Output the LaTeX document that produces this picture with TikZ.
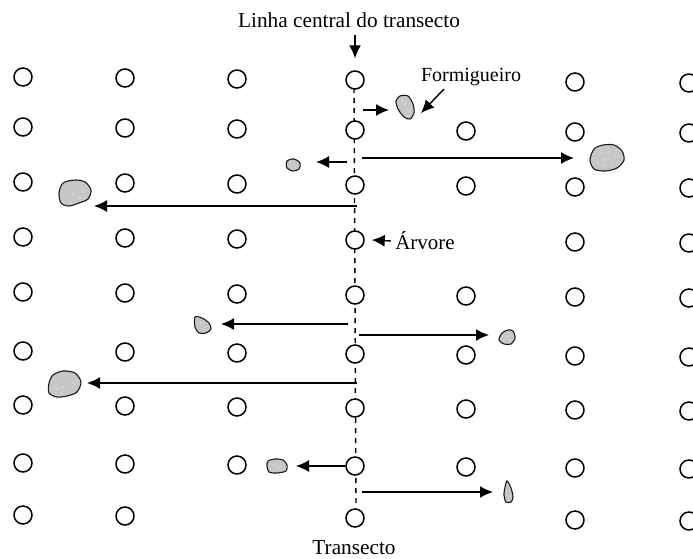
\documentclass[tikz,border=0pt]{standalone}
\usepackage{fontspec}
\setmainfont{Liberation Serif}
\usetikzlibrary{arrows.meta}
\begin{document}
\begin{tikzpicture}[x=1pt,y=-1pt,
  tree/.style={circle,draw,fill=white,line width=1.5pt,minimum size=18pt,inner sep=0pt},
  arr/.style={-{Latex[length=13pt,width=12pt]},line width=1.4pt},
  lbl/.style={font=\fontsize{#1}{24}\selectfont,inner sep=0pt},
  lbl/.default=21,
  ant/.style={fill=gray!45,draw=black!90,line width=1.1pt},
  dotw/.style={fill=white},
  cline/.style={line width=1.4pt,dash pattern=on 5pt off 5pt}]
\useasboundingbox (0,0) rectangle (693,558);
% missing trees
\expandafter\def\csname skip1-5\endcsname{}
\expandafter\def\csname skip4-5\endcsname{}
\expandafter\def\csname skip9-3\endcsname{}
\expandafter\def\csname skip9-5\endcsname{}
% centre line (drawn first, under the trees)
\coordinate (ltop) at (354,88);
\coordinate (lbot) at (356,510);
\draw[cline] (ltop) -- (lbot);
% trees
\foreach \c/\xx in {1/23,2/125,3/237,4/355,5/466,6/575,7/689}{
  \foreach \r/\yy in {1/77,2/127,3/182,4/237,5/292,6/351,7/405,8/463,9/515}{
    \ifcsname skip\r-\c\endcsname\else
      \pgfmathsetmacro\yyy{\yy+\c-1}
      \node[tree] (t-\r-\c) at (\xx,\yyy) {};
    \fi
  }
}
% labels
\node[lbl=21.3] (top) at (349,20) {Linha central do transecto};
\node[lbl=20] (form) at (471,77) {Formigueiro};
\node[lbl=21] (arv) at (425,241) {Árvore};
\node[lbl=21.3] (tra) at (354,548) {Transecto};
% anthills
\begin{scope}[shift={(405,107)}]
\draw[ant] plot[smooth cycle] coordinates {(-5,-11) (3,-11) (8,-3) (9,6) (5,12) (-1,10) (-7,2) (-9,-6)};
\fill[dotw] (0,-3) circle (0.6) (3,4) circle (0.6) (-3,-6) circle (0.6);
\end{scope}
\begin{scope}[shift={(607,158)}]
\draw[ant] plot[smooth cycle] coordinates {(-13,-9) (-4,-13) (7,-13) (15,-7) (17,2) (10,10) (-2,13) (-13,11) (-17,2)};
\fill[dotw] (-6,-5) circle (0.7) (2,-6) circle (0.7) (8,-2) circle (0.7) (-2,2) circle (0.7) (5,5) circle (0.7) (-9,5) circle (0.7) (-3,8) circle (0.7) (10,-8) circle (0.7);
\end{scope}
\begin{scope}[shift={(293,165)}]
\draw[ant] plot[smooth cycle] coordinates {(-6,-4) (1,-6) (7,-2) (6,4) (0,6) (-6,3)};
\end{scope}
\begin{scope}[shift={(75,193)}]
\draw[ant] plot[smooth cycle] coordinates {(-12,-10) (0,-13) (10,-11) (16,-3) (13,6) (4,10) (-6,13) (-14,10) (-16,0)};
\fill[dotw] (-6,-5) circle (0.7) (2,-6) circle (0.7) (8,-2) circle (0.7) (-2,2) circle (0.7) (5,5) circle (0.7) (-8,5) circle (0.7) (-4,9) circle (0.7);
\end{scope}
\begin{scope}[shift={(203,325)}]
\draw[ant] plot[smooth cycle] coordinates {(-8,-8) (-1,-7) (6,-2) (8,4) (3,8) (-4,8) (-8,2)};
\fill[dotw] (-2,-2) circle (0.6) (2,2) circle (0.6);
\end{scope}
\begin{scope}[shift={(507,337)}]
\draw[ant] plot[smooth cycle] coordinates {(-5,-4) (1,-7) (6,-6) (8,1) (4,7) (-3,7) (-8,3)};
\fill[dotw] (0,-1) circle (0.6) (3,3) circle (0.6);
\end{scope}
\begin{scope}[shift={(65,385)}]
\draw[ant] plot[smooth cycle] coordinates {(-12,-10) (-2,-14) (10,-12) (16,-3) (12,7) (2,11) (-8,12) (-16,8) (-16,-2)};
\fill[dotw] (-6,-5) circle (0.7) (2,-6) circle (0.7) (8,-2) circle (0.7) (-2,2) circle (0.7) (5,5) circle (0.7) (-9,4) circle (0.7) (-4,8) circle (0.7);
\end{scope}
\begin{scope}[shift={(277,466)}]
\draw[ant] plot[smooth cycle] coordinates {(-9,-5) (-2,-7) (6,-6) (10,-1) (9,5) (0,7) (-8,6) (-10,0)};
\fill[dotw] (-3,-1) circle (0.6) (3,1) circle (0.6);
\end{scope}
\begin{scope}[shift={(508,492)}]
\draw[ant] plot[smooth cycle] coordinates {(-1,-11) (3,-4) (5,5) (3,10) (-2,10) (-4,3) (-3,-5)};
\end{scope}
% arrow end points
\coordinate (s1) at (363,110);   \coordinate (e1) at (389,110);
\coordinate (s2) at (362,158);   \coordinate (e2) at (574,158);
\coordinate (s3) at (347,162);   \coordinate (e3) at (316,162);
\coordinate (s4) at (357,206);   \coordinate (e4) at (94,206);
\coordinate (s5) at (348,324);   \coordinate (e5) at (221,324);
\coordinate (s6) at (359,335);   \coordinate (e6) at (489,335);
\coordinate (s7) at (357,383);   \coordinate (e7) at (87,383);
\coordinate (e8) at (296,466);
\coordinate (s9) at (362,492);   \coordinate (e9) at (493,492);
\coordinate (fs) at (444,89);    \coordinate (fe) at (421,113);
% arrows
\draw[arr] ([yshift=-7pt]t-1-4.north |- top.south) -- ([yshift=12pt]t-1-4.north);
\draw[arr] (fs) -- (fe);
\draw[arr] ([xshift=-4pt]arv.west) -- ([xshift=7pt]t-4-4.east);
\draw[arr] (s1) -- (e1);
\draw[arr] (s2) -- (e2);
\draw[arr] (s3) -- (e3);
\draw[arr] (s4) -- (e4);
\draw[arr] (s5) -- (e5);
\draw[arr] (s6) -- (e6);
\draw[arr] (s7) -- (e7);
\draw[arr] (t-8-4.west) -- (e8);
\draw[arr] (s9) -- (e9);
\end{tikzpicture}
\end{document}
